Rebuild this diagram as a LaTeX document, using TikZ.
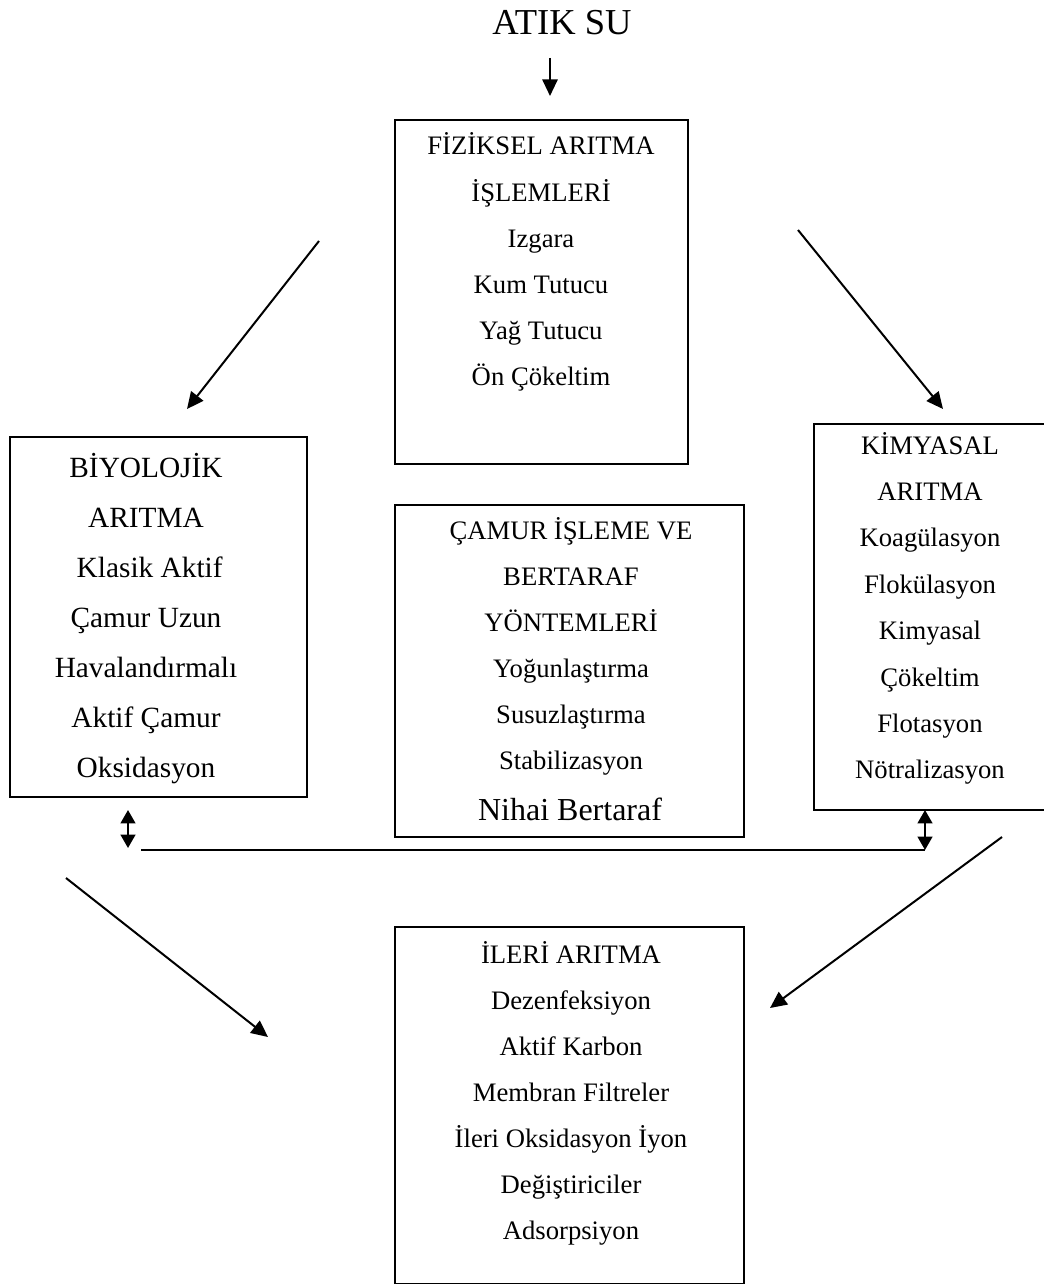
\documentclass[tikz,border=0pt]{standalone}
\usepackage{fontspec}
\setmainfont{Liberation Serif}
\usetikzlibrary{arrows.meta}
\begin{document}
\begin{tikzpicture}[x=0.75pt,y=-0.75pt,
  box/.style={draw,line width=1.3pt,inner sep=0pt,fill=none},
  txt/.style={anchor=base,inner sep=0pt,font=\fontsize{20}{24}\selectfont},
  txtb/.style={anchor=base,inner sep=0pt,font=\fontsize{22}{26}\selectfont},
  arr/.style={line width=1.5pt,-{Triangle[length=12.5pt,width=11.5pt]}},
  darr/.style={line width=1.6pt,{Triangle[length=10pt,width=11pt]}-{Triangle[length=10pt,width=11pt]}},
  conn/.style={line width=1.4pt}]
\useasboundingbox (0,0) rectangle (1043,1284);
% title
\node[anchor=base,inner sep=0pt,font=\fontsize{27.4}{32}\selectfont] (title) at (562,35) {ATIK SU};
% boxes
\node[box,minimum width=219.75pt,minimum height=258pt] (fiz) at (541.5,292) {};
\node[box,minimum width=222.75pt,minimum height=270pt] (biy) at (158.5,617) {};
\node[box,minimum width=261.75pt,minimum height=249pt] (cam) at (569.5,671) {};
\node[box,minimum width=174pt,minimum height=289.5pt] (kim) at (930,617) {};
\node[box,minimum width=261.75pt,minimum height=267.75pt] (ile) at (569.5,1105.5) {};
% FIZIKSEL
\foreach \t [count=\i from 0] in {FİZİKSEL ARITMA,İŞLEMLERİ,Izgara,Kum Tutucu,Yağ Tutucu,Ön Çökeltim}
  \node[txt] (fiz\i) at (541,155+46*\i) {\t};
% BIYOLOJIK
\foreach \t [count=\i from 0] in {BİYOLOJİK,ARITMA,\ Klasik Aktif,Çamur Uzun,Havalandırmalı,Aktif Çamur,Oksidasyon}
  \node[txtb] (biy\i) at (146,477+50*\i) {\t};
% CAMUR
\foreach \t [count=\i from 0] in {ÇAMUR İŞLEME VE,BERTARAF,YÖNTEMLERİ,Yoğunlaştırma,Susuzlaştırma,Stabilizasyon}
  \node[txt] (cam\i) at (571,539+46*\i) {\t};
\node[anchor=base,inner sep=0pt,font=\fontsize{24}{28}\selectfont] (cam6) at (570,820) {Nihai Bertaraf};
% KIMYASAL
\foreach \t [count=\i from 0] in {KİMYASAL,ARITMA,Koagülasyon,Flokülasyon,Kimyasal,Çökeltim,Flotasyon,Nötralizasyon}
  \node[txt] (kim\i) at (930,454+46.4*\i) {\t};
% ILERI
\foreach \t [count=\i from 0] in {İLERİ ARITMA,Dezenfeksiyon,Aktif Karbon,Membran Filtreler,İleri Oksidasyon İyon,Değiştiriciler,Adsorpsiyon}
  \node[txt] (ile\i) at (571,963+46*\i) {\t};
% coordinates
\coordinate (a0s) at (550,58);
\coordinate (a0e) at (550,96);
\coordinate (a1s) at (319,241);
\coordinate (a1e) at (187,409);
\coordinate (a2s) at (798,230);
\coordinate (a2e) at (943,409);
\coordinate (a3s) at (66,878);
\coordinate (a3e) at (268,1037);
\coordinate (a4s) at (1002,837);
\coordinate (a4e) at (770,1008);
\coordinate (d1s) at (128,810);
\coordinate (d1e) at (128,848);
\coordinate (d2s) at (925,810);
\coordinate (d2e) at (925,850);
\coordinate (hs) at (141,850);
% arrows
\draw[arr] (a0s) -- (a0e);
\draw[arr] (a1s) -- (a1e);
\draw[arr] (a2s) -- (a2e);
\draw[arr] (a3s) -- (a3e);
\draw[arr] (a4s) -- (a4e);
\draw[darr] (d1s) -- (d1e);
\draw[darr] (d2s) -- (d2e);
\draw[conn] (hs) -- (d2e);
\end{tikzpicture}
\end{document}
